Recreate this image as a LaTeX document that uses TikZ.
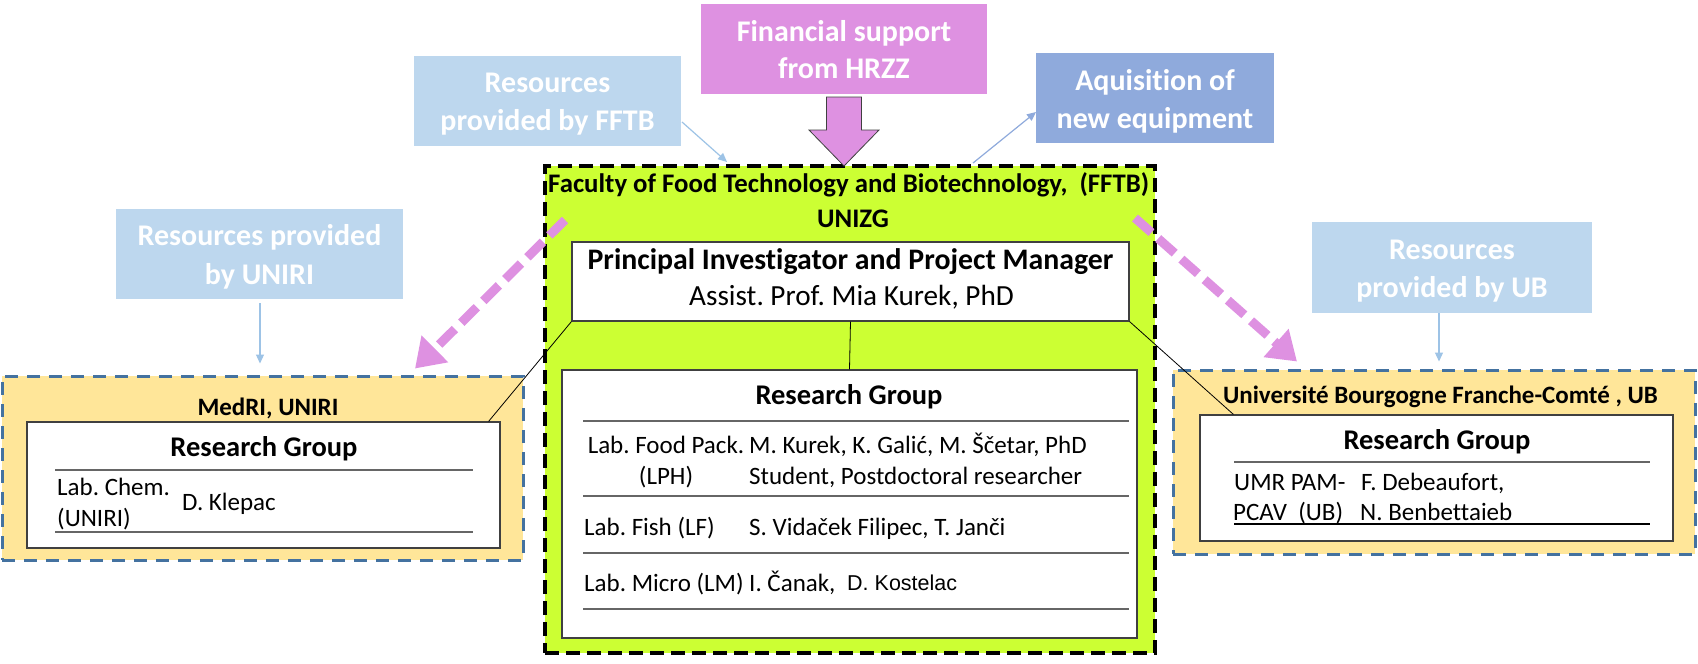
\documentclass[tikz,border=0pt]{standalone}
\usepackage{fontspec}
\setmainfont{Carlito}[Ligatures={NoCommon}]
\newfontfamily\kosfont{Liberation Sans}
\usetikzlibrary{arrows.meta,calc}
\definecolor{lblue}{RGB}{189,215,238}
\definecolor{mblue}{RGB}{143,170,220}
\definecolor{pinkc}{RGB}{222,145,225}
\definecolor{limec}{RGB}{204,255,51}
\definecolor{ylw}{RGB}{255,230,153}
\definecolor{steel}{RGB}{68,114,160}
\definecolor{arrblue}{RGB}{157,195,230}
\frenchspacing
\begin{document}
\begin{tikzpicture}[x=1pt,y=-1pt,
  tbox/.style={draw=none,inner sep=0pt,outer sep=0pt},
  ttl/.style={text=white,font=\bfseries\fontsize{30}{36}\selectfont,inner sep=0pt,text height=19pt,text depth=0pt},
  cell/.style={font=\fontsize{25}{30}\selectfont,inner sep=0pt,text height=16pt,text depth=0pt,anchor=west},
  rgt/.style={font=\bfseries\fontsize{28.5}{34}\selectfont,inner sep=0pt,text height=18pt,text depth=0pt},
  orgt/.style={font=\bfseries\fontsize{25}{30}\selectfont,inner sep=0pt,text height=16pt,text depth=0pt},
  wbox/.style={draw={rgb,255:red,64;green,64;blue,64},line width=1.2pt,fill=white,inner sep=0pt},
  ybox/.style={draw=steel,line width=3pt,dash pattern=on 13pt off 9pt,fill=ylw,inner sep=0pt},
  tline/.style={draw=black!60,line width=1.3pt},
  thinarr/.style={draw=arrblue,line width=1.2pt,-{Triangle[length=9pt,width=8pt]}},
  pinkarr/.style={draw=pinkc,line width=9pt,dash pattern=on 22pt off 9pt,-{Triangle[length=28pt,width=36pt]}},
  conn/.style={draw=black,line width=0.8pt}
]
\useasboundingbox (0,0) rectangle (1698,664);
\fill[white] (0,0) rectangle (1698,664);

% ---- top boxes
\node[tbox,fill=pinkc,minimum width=286pt,minimum height=90pt] (fin) at (844,49) {};
\node[ttl] (fin1) at (844,31.7) {Financial support};
\node[ttl] (fin2) at (844,68.8) {from HRZZ};

\node[tbox,fill=lblue,minimum width=267pt,minimum height=90pt] (resF) at (547.5,101) {};
\node[ttl] (resF1) at (547.5,83.3) {Resources};
\node[ttl] (resF2) at (547.5,121.3) {provided by FFTB};

\node[tbox,fill=mblue,minimum width=238pt,minimum height=90pt] (aqu) at (1155,98) {};
\node[ttl] (aqu1) at (1155,80.5) {Aquisition of};
\node[ttl] (aqu2) at (1155,118.5) {new equipment};

\node[tbox,fill=lblue,minimum width=287pt,minimum height=90pt] (resU) at (259.5,254) {};
\node[ttl] (resU1) at (259.5,235.8) {Resources provided};
\node[ttl] (resU2) at (259.5,274.7) {by UNIRI};

\node[tbox,fill=lblue,minimum width=280pt,minimum height=91pt] (resB) at (1452,267.5) {};
\node[ttl] (resB1) at (1452,249.5) {Resources};
\node[ttl] (resB2) at (1452,288) {provided by UB};

% ---- central FFTB box
\node[draw=black,line width=4pt,dash pattern=on 14pt off 7pt,fill=limec,inner sep=0pt,minimum width=610pt,minimum height=487pt] (fftb) at (850,409.5) {};
\node[font=\bfseries\fontsize{26.8}{32}\selectfont,inner sep=0pt,text height=17pt,text depth=0pt,anchor=west] (fftbt) at (548,184) {Faculty of Food Technology and Biotechnology,\ \ (FFTB)};
\node[font=\bfseries\fontsize{26.8}{32}\selectfont,inner sep=0pt,text height=17pt,text depth=0pt] (unizg) at (853,219) {UNIZG};

\node[wbox,minimum width=557pt,minimum height=79pt] (pi) at (850.5,281.5) {};
\node[font=\bfseries\fontsize{29.8}{36}\selectfont,inner sep=0pt,text height=19pt,text depth=0pt] (pi1) at (850.5,259.7) {Principal Investigator and Project Manager};
\node[font=\fontsize{29.2}{36}\selectfont,inner sep=0pt,text height=19pt,text depth=0pt] (pi2) at (851.5,296) {Assist. Prof. Mia Kurek, PhD};

\node[wbox,minimum width=575pt,minimum height=268pt] (rg) at (849.5,504) {};
\node[rgt] (rgT) at (849,395) {Research Group};
\draw[tline] (583,421) -- (1129,421);
\draw[tline] (583,496) -- (1129,496);
\draw[tline] (583,553) -- (1129,553);
\draw[tline] (583,609) -- (1129,609);
\node[cell,anchor=center] (c11) at (666,445) {Lab. Food Pack.};
\node[cell,anchor=center] (c12) at (666,476) {(LPH)};
\node[cell] (c13) at (749,445) {M. Kurek, K. Galić, M. Ščetar, PhD};
\node[cell] (c14) at (749,476) {Student, Postdoctoral researcher};
\node[cell] (c21) at (584,527) {Lab. Fish (LF)};
\node[cell] (c22) at (749,527) {S. Vidaček Filipec, T. Janči};
\node[cell] (c31) at (584,583) {Lab. Micro (LM)};
\node[cell] (c32) at (749,583) {I. Čanak,};
\node[font=\kosfont\fontsize{21.5}{26}\selectfont,inner sep=0pt,text height=15pt,text depth=0pt,anchor=west] (c33) at (847,583) {D. Kostelac};

% ---- MedRI box
\node[ybox,minimum width=521pt,minimum height=184pt] (medri) at (262.5,468) {};
\node[orgt] (medriT) at (268,407) {MedRI, UNIRI};
\node[wbox,minimum width=473pt,minimum height=126pt] (mrg) at (263.5,485) {};
\node[rgt] (mrgT) at (264,447) {Research Group};
\draw[tline] (55,470) -- (473,470);
\draw[tline] (55,532) -- (473,532);
\node[cell] (m1) at (57,487) {Lab. Chem.};
\node[cell] (m2) at (57,518) {(UNIRI)};
\node[cell] (m3) at (182,502) {D. Klepac};

% ---- UB box
\node[ybox,minimum width=522pt,minimum height=184pt] (ub) at (1434,462) {};
\node[orgt] (ubT) at (1440.5,395) {Université Bourgogne Franche-Comté , UB};
\node[wbox,minimum width=473pt,minimum height=126pt] (ubg) at (1436.5,478) {};
\node[rgt] (ubgT) at (1437,440) {Research Group};
\draw[tline] (1234,462) -- (1650,462);
\draw[draw=black,line width=1.3pt] (1234,524) -- (1650,524);
\node[cell] (u1) at (1234,482) {UMR PAM-};
\node[cell] (u2) at (1233,512) {PCAV\ \ (UB)};
\node[cell] (u3) at (1361,482) {F. Debeaufort,};
\node[cell] (u4) at (1360,512) {N. Benbettaieb};

% ---- connectors
\begin{scope}[shift={(fin.south)}]
\path[fill=pinkc,draw=black!75,line width=0.8pt] (-17.5,3) -- (17.5,3) -- (17.5,36) -- (35,36) -- (0,72) -- (-35,36) -- (-17.5,36) -- cycle;
\end{scope}

\coordinate (fIn) at (727,162);
\coordinate (fOut) at (973,163);
\draw[thinarr] ($(resF.south east)+(1,-24)$) -- (fIn);
\draw[draw=mblue,line width=1.2pt,-{Triangle[length=9pt,width=8pt]}] (fOut) -- ($(aqu.west)+(0,14)$);
\draw[thinarr] ($(resU.south)+(0.5,4)$) -- ($(medri.north)+(-2.5,-11)$);
\draw[thinarr] ($(resB.south)+(-13,0)$) -- ($(ub.north)+(5,-7)$);

\draw[conn] (pi.south west) -- ($(mrg.north east)+(-12,0)$);
\draw[conn] (pi.south east) -- ($(ubg.north west)+(34,0)$);
\draw[conn] (pi.south) -- (rg.north);

\coordinate (pL) at (565,220);
\coordinate (pR) at (1135,218);
\draw[pinkarr] (pL) -- ($(medri.north)+(152.5,-6)$);
\draw[pinkarr] (pR) -- ($(ub.north)+(-137,-7)$);
\end{tikzpicture}
\end{document}
